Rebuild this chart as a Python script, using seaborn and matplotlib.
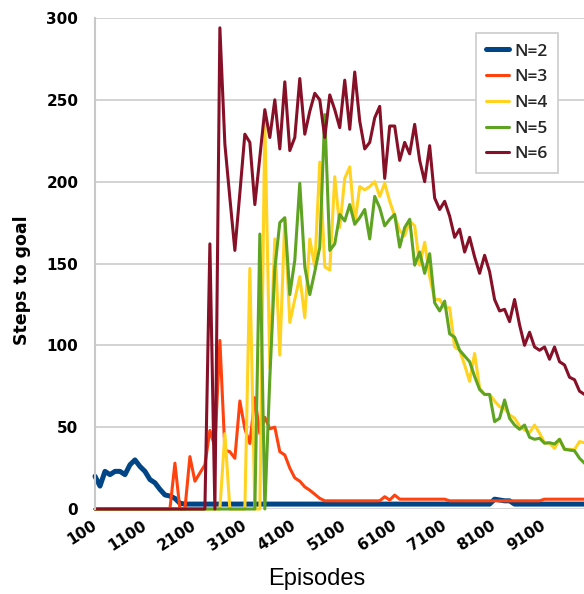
import numpy as np
import pandas as pd
import matplotlib
matplotlib.use("Agg")
import matplotlib.pyplot as plt
import seaborn as sns

# ---------------- data ----------------
episodes = list(range(100, 10001, 100))
series_names = ["N=2", "N=3", "N=4", "N=5", "N=6"]

n2 = ([20, 14, 23, 21, 23, 23, 21, 27, 30, 26, 23, 18, 16, 12, 8.6, 7.9, 6.5, 3.5, 3]
      + [3] * 61 + [6, 5.5, 5, 5] + [3] * 16)

n3 = ([0] * 16
      + [28, 0, 0, 32, 17, 22, 27, 48, 38, 103, 36, 35, 31, 66, 49, 40, 68, 46, 56, 49,
         50, 35, 33, 25, 19, 17, 13.5, 11.5, 9, 6.5]
      + [5] * 12 + [7.5, 5.5, 8.5] + [6] * 10 + [5] * 19 + [6] * 10)

n4 = ([0] * 26 + [46] + [0] * 4
      + [147, 0, 0, 237, 86, 165, 94, 177, 114, 128, 142, 117, 165, 148, 212, 148, 146,
         203, 172, 202, 209, 174, 197, 195, 197, 200, 191, 199, 188, 179, 170, 167, 176,
         173, 149, 163, 142, 128, 128, 123, 123, 99, 97, 88, 78, 95, 74, 70, 70, 66,
         62.5, 61.5, 57.5, 55.5, 50.7, 48.3, 46.6, 51.3, 46.3, 40.5, 40.2, 37, 42.6,
         36.5, 36.5, 36.3, 41.2, 40.5, 40])

n5 = ([0] * 33
      + [168, 0, 80, 147, 175, 178, 131, 152, 199, 148, 131, 145, 160, 241, 158, 162,
         180, 176, 186, 174, 178, 183, 165, 191, 184, 173, 177, 180, 160, 172, 177, 149,
         157, 144, 156, 126, 121, 127, 107, 105, 97, 93.5, 90, 81, 73, 70, 70, 53.4,
         55.4, 66.6, 55.4, 51.3, 48.7, 51.3, 43.8, 42.6, 43.2, 40.2, 40.5, 39.7, 42.6,
         36.5, 36, 35.6, 31, 28, 26])

n6 = ([0] * 23
      + [162, 0, 294, 223, 190, 158, 193, 229, 224, 186, 215, 244, 227, 250, 220, 261,
         219, 227, 263, 229, 243, 254, 250, 227, 253, 244, 233, 262, 232, 267, 237, 220,
         224, 239, 246, 202, 234, 234, 213, 224, 217, 235, 213, 200, 222, 190, 183, 188,
         179, 166, 171, 157, 166, 154, 144, 155, 145, 128, 121, 122, 114.5, 128, 112.5,
         100, 108, 99, 97, 99, 91.5, 99, 90, 88, 80.5, 79, 72, 70, 69])

x_tick_values = list(range(100, 9101, 1000))
x_tick_labels = [str(v) for v in x_tick_values]
y_tick_values = [0, 50, 100, 150, 200, 250, 300]

# ---------------- style ----------------
sns.set_style("white")
plt.rcParams["font.family"] = ["DejaVu Sans"]

colors = ["#004586", "#ff420e", "#ffd320", "#5fa322", "#861027"]
widths = [3.6, 2.2, 2.2, 2.2, 2.2]

W, H = 584, 594
fig = plt.figure(figsize=(W / 100, H / 100), dpi=100)
ax = fig.add_axes([95 / W, 1 - 509 / H, 489 / W, 491 / H])

all_series = [n2, n3, n4, n5, n6]
for name, vals, col, lw in zip(series_names, all_series, colors, widths):
    df = pd.DataFrame({"Episodes": episodes, "Steps": vals})
    sns.lineplot(data=df, x="Episodes", y="Steps", ax=ax, color=col, linewidth=lw,
                 label=name, clip_on=False, solid_joinstyle="round")

ax.set_xlim(100, 9890)
ax.set_ylim(0, 300)
ax.set_yticks(y_tick_values)
ax.set_xticks(x_tick_values)
ax.set_xticklabels(x_tick_labels)

ax.grid(axis="y", color="#d0d0d0", linewidth=1.3, zorder=0)
ax.grid(axis="x", visible=False)
ax.set_axisbelow(True)
for s in ["top", "right", "bottom"]:
    ax.spines[s].set_visible(False)
ax.spines["left"].set_color("#c8c8c8")
ax.spines["left"].set_linewidth(1.5)

ax.tick_params(axis="y", length=7, width=1.2, color="#c8c8c8", pad=5,
               labelsize=11, labelcolor="black")
ax.tick_params(axis="x", length=0, pad=11, labelsize=11, labelcolor="black")
for lbl in ax.get_yticklabels():
    lbl.set_fontweight("bold")
for lbl in ax.get_xticklabels():
    lbl.set_fontweight("bold")
    lbl.set_rotation(33)
    lbl.set_ha("right")
    lbl.set_va("center")
    lbl.set_rotation_mode("anchor")

ax.set_ylabel("Steps to goal", fontsize=12.5, fontweight="bold", color="black")
ax.yaxis.label.set_va("center")
ax.yaxis.set_label_coords((22 - 95) / 489, (509 - 280) / 491)

ax.set_xlabel("Episodes", fontsize=17, family=["Liberation Sans"], color="black")
ax.xaxis.label.set_va("center")
ax.xaxis.set_label_coords((317 - 95) / 489, (509 - 579) / 491)

leg = ax.legend(loc="upper left", bbox_to_anchor=(476 / W, 1 - 33 / H),
                bbox_transform=fig.transFigure, frameon=True, fancybox=False,
                framealpha=1, edgecolor="#cccccc",
                prop={"family": "Open Sans", "size": 12.5, "weight": "semibold"},
                handlelength=1.3, handletextpad=0.3, labelspacing=0.55,
                borderpad=0.6, borderaxespad=0)
leg.get_frame().set_linewidth(1.2)

fig.savefig("out.png", dpi=100)
